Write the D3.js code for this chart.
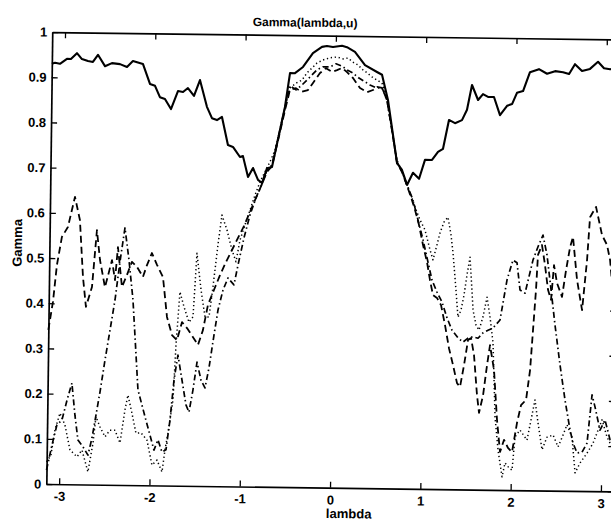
<!DOCTYPE html>
<html>
<head>
<meta charset="utf-8">
<script src="https://cdn.jsdelivr.net/npm/d3@7"></script>
<style>
  html, body { margin: 0; padding: 0; background: #fff; }
  svg { display: block; }
  text { font-family: "Liberation Sans", Arial, Helvetica, sans-serif; font-weight: bold; fill: #000; }
</style>
</head>
<body>
<div id="chart"></div>
<script>
// values (lambda on x, Gamma on y)
var solidLambda = [-3.142,-3.107,-3.052,-2.975,-2.931,-2.865,-2.809,-2.742,-2.687,-2.632,-2.553,-2.476,-2.387,-2.309,-2.244,-2.133,-2.052,-1.996,-1.940,-1.884,-1.816,-1.741,-1.685,-1.631,-1.563,-1.499,-1.418,-1.361,-1.305,-1.250,-1.180,-1.124,-1.045,-1.012,-0.953,-0.899,-0.842,-0.797,-0.744,-0.689,-0.606,-0.554,-0.503,-0.448,-0.360,-0.252,-0.153,-0.098,-0.031,0.069,0.124,0.213,0.326,0.460,0.516,0.586,0.695,0.751,0.809,0.873,0.941,1.004,1.082,1.147,1.202,1.264,1.331,1.408,1.462,1.514,1.583,1.637,1.693,1.759,1.828,1.905,1.960,2.013,2.080,2.154,2.253,2.343,2.432,2.520,2.587,2.651,2.730,2.818,2.906,2.973,3.040,3.142];
var solidGamma = [0.930,0.932,0.930,0.941,0.941,0.954,0.941,0.937,0.935,0.951,0.926,0.933,0.931,0.925,0.938,0.932,0.888,0.884,0.859,0.855,0.833,0.873,0.871,0.880,0.863,0.898,0.839,0.814,0.810,0.817,0.755,0.751,0.729,0.731,0.685,0.705,0.679,0.672,0.705,0.708,0.790,0.841,0.916,0.916,0.930,0.961,0.975,0.977,0.975,0.978,0.975,0.965,0.936,0.921,0.915,0.859,0.720,0.705,0.672,0.699,0.686,0.728,0.728,0.746,0.753,0.817,0.810,0.817,0.840,0.895,0.862,0.875,0.869,0.869,0.829,0.850,0.854,0.879,0.883,0.925,0.932,0.922,0.928,0.926,0.922,0.944,0.929,0.934,0.950,0.936,0.934,0.932];

var dottedLambda = [-3.142,-3.095,-3.054,-3.001,-2.944,-2.885,-2.806,-2.752,-2.683,-2.631,-2.602,-2.556,-2.499,-2.445,-2.390,-2.332,-2.282,-2.251,-2.204,-2.157,-2.101,-2.034,-1.975,-1.920,-1.863,-1.833,-1.802,-1.752,-1.726,-1.690,-1.643,-1.586,-1.542,-1.507,-1.457,-1.409,-1.365,-1.325,-1.276,-1.236,-1.178,-1.120,-1.074,-1.033,-0.980,-0.926,-0.873,-0.820,-0.766,-0.712,-0.658,-0.606,-0.554,-0.501,-0.435,-0.369,-0.315,-0.260,-0.206,-0.140,-0.063,0.015,0.082,0.137,0.193,0.249,0.305,0.349,0.405,0.461,0.517,0.563,0.634,0.694,0.751,0.809,0.854,0.900,0.958,1.014,1.073,1.107,1.149,1.181,1.224,1.267,1.303,1.328,1.366,1.392,1.425,1.456,1.486,1.517,1.558,1.593,1.627,1.669,1.711,1.747,1.784,1.817,1.855,1.903,1.934,1.979,2.013,2.041,2.095,2.174,2.216,2.257,2.294,2.342,2.395,2.462,2.519,2.572,2.615,2.672,2.711,2.765,2.841,2.906,2.959,3.002,3.060,3.117,3.142];
var dottedGamma = [0.049,0.064,0.120,0.157,0.131,0.076,0.061,0.076,0.028,0.092,0.150,0.128,0.106,0.121,0.121,0.093,0.166,0.199,0.159,0.115,0.116,0.100,0.045,0.056,0.030,0.079,0.116,0.189,0.311,0.429,0.396,0.362,0.374,0.515,0.434,0.374,0.374,0.441,0.534,0.600,0.567,0.523,0.497,0.545,0.579,0.612,0.645,0.674,0.697,0.719,0.745,0.790,0.839,0.883,0.894,0.901,0.917,0.928,0.939,0.946,0.951,0.953,0.949,0.951,0.942,0.936,0.925,0.919,0.910,0.903,0.897,0.870,0.793,0.727,0.701,0.672,0.650,0.623,0.595,0.573,0.529,0.507,0.540,0.567,0.591,0.602,0.563,0.523,0.441,0.381,0.397,0.430,0.475,0.514,0.397,0.364,0.353,0.382,0.426,0.382,0.325,0.161,0.088,0.029,0.060,0.049,0.044,0.118,0.133,0.111,0.156,0.200,0.149,0.090,0.118,0.123,0.097,0.123,0.146,0.119,0.040,0.062,0.084,0.106,0.135,0.158,0.120,0.098,0.090];

var dashdotLambda = [-3.142,-3.085,-3.033,-2.978,-2.925,-2.873,-2.835,-2.798,-2.741,-2.685,-2.643,-2.602,-2.561,-2.510,-2.459,-2.408,-2.359,-2.308,-2.259,-2.209,-2.141,-2.094,-2.048,-2.001,-1.955,-1.912,-1.866,-1.822,-1.782,-1.743,-1.703,-1.655,-1.607,-1.573,-1.532,-1.491,-1.444,-1.399,-1.358,-1.307,-1.266,-1.214,-1.160,-1.093,-1.051,-0.989,-0.926,-0.862,-0.797,-0.744,-0.689,-0.606,-0.554,-0.501,-0.434,-0.369,-0.281,-0.205,-0.139,-0.061,0.005,0.071,0.127,0.194,0.261,0.328,0.384,0.451,0.518,0.575,0.634,0.694,0.751,0.809,0.877,0.935,0.994,1.052,1.099,1.156,1.213,1.271,1.328,1.396,1.452,1.506,1.561,1.617,1.672,1.727,1.782,1.858,1.930,1.993,2.038,2.075,2.131,2.215,2.268,2.322,2.369,2.419,2.468,2.529,2.589,2.649,2.684,2.730,2.785,2.839,2.888,2.923,2.981,3.035,3.094,3.142];
var dashdotGamma = [0.031,0.086,0.131,0.142,0.186,0.224,0.153,0.098,0.083,0.065,0.103,0.154,0.205,0.276,0.342,0.409,0.493,0.569,0.498,0.410,0.211,0.177,0.144,0.111,0.078,0.101,0.074,0.079,0.145,0.234,0.289,0.234,0.179,0.163,0.212,0.274,0.234,0.217,0.261,0.334,0.390,0.434,0.461,0.446,0.490,0.550,0.601,0.639,0.670,0.701,0.712,0.790,0.839,0.888,0.879,0.890,0.908,0.924,0.931,0.931,0.938,0.933,0.925,0.918,0.907,0.899,0.892,0.886,0.886,0.859,0.793,0.722,0.701,0.672,0.639,0.595,0.551,0.502,0.462,0.436,0.414,0.379,0.352,0.335,0.326,0.335,0.338,0.335,0.347,0.353,0.358,0.376,0.465,0.509,0.503,0.443,0.436,0.510,0.539,0.565,0.521,0.444,0.366,0.278,0.201,0.135,0.106,0.084,0.086,0.106,0.213,0.186,0.135,0.158,0.114,0.105];

var dashedLambda = [-3.142,-3.095,-3.056,-3.005,-2.940,-2.866,-2.808,-2.766,-2.729,-2.665,-2.618,-2.580,-2.521,-2.447,-2.411,-2.383,-2.333,-2.279,-2.226,-2.170,-2.102,-2.059,-2.006,-1.948,-1.880,-1.830,-1.772,-1.716,-1.663,-1.607,-1.539,-1.483,-1.430,-1.378,-1.314,-1.249,-1.185,-1.120,-1.055,-0.991,-0.926,-0.862,-0.797,-0.744,-0.689,-0.606,-0.553,-0.501,-0.435,-0.379,-0.302,-0.247,-0.171,-0.105,-0.038,0.017,0.072,0.128,0.195,0.274,0.352,0.418,0.462,0.518,0.575,0.634,0.695,0.751,0.809,0.855,0.901,0.947,0.994,1.041,1.077,1.112,1.157,1.203,1.250,1.297,1.344,1.391,1.425,1.466,1.507,1.540,1.575,1.614,1.639,1.681,1.721,1.751,1.799,1.839,1.877,1.920,1.965,2.010,2.061,2.103,2.158,2.198,2.225,2.252,2.269,2.312,2.348,2.385,2.420,2.448,2.484,2.541,2.582,2.623,2.654,2.705,2.765,2.813,2.840,2.905,2.975,3.032,3.068,3.118,3.142];
var dashedGamma = [0.341,0.403,0.485,0.547,0.569,0.636,0.585,0.459,0.393,0.437,0.563,0.497,0.437,0.497,0.453,0.526,0.438,0.465,0.494,0.483,0.461,0.487,0.514,0.488,0.461,0.373,0.333,0.322,0.362,0.349,0.329,0.312,0.345,0.401,0.434,0.467,0.496,0.523,0.550,0.576,0.608,0.639,0.670,0.697,0.710,0.785,0.834,0.879,0.883,0.875,0.879,0.895,0.917,0.928,0.920,0.924,0.929,0.920,0.907,0.885,0.876,0.881,0.888,0.886,0.859,0.793,0.720,0.701,0.670,0.645,0.617,0.584,0.540,0.502,0.462,0.429,0.423,0.407,0.363,0.312,0.275,0.235,0.227,0.275,0.331,0.335,0.298,0.209,0.170,0.209,0.276,0.320,0.265,0.155,0.084,0.111,0.093,0.084,0.149,0.188,0.200,0.266,0.355,0.443,0.521,0.543,0.499,0.444,0.422,0.499,0.459,0.429,0.488,0.539,0.562,0.467,0.400,0.511,0.606,0.629,0.567,0.545,0.512,0.412,0.390];

var xTicks = [-3, -2, -1, 0, 1, 2, 3];
var yTicks = [0, 0.1, 0.2, 0.3, 0.4, 0.5, 0.6, 0.7, 0.8, 0.9, 1];

!function() {
    var width = 611, height = 523;
    var plotLeft = 49.3, plotRight = 616.7, plotTop = 35.7, plotBottom = 487.7;

    var svg = d3.select("#chart").append("svg")
        .attr("width", width)
        .attr("height", height);

    svg.append("rect").attr("width", width).attr("height", height).attr("fill", "#fff");

    // the scanned page sits slightly tilted, so the whole figure is turned a little
    var g = svg.append("g").attr("transform", "rotate(0.75,331,260)");

    var x = d3.scaleLinear().domain([-Math.PI, Math.PI]).range([plotLeft, plotRight]);
    var y = d3.scaleLinear().domain([0, 1]).range([plotBottom, plotTop]);

    // axes, matlab style: ticks pointing inwards
    g.append("g")
        .attr("transform", "translate(0," + plotBottom + ")")
        .call(d3.axisBottom(x).tickValues(xTicks).tickFormat(function(d) { return String(d); })
            .tickSizeInner(-6).tickSizeOuter(0).tickPadding(7.5));

    g.append("g")
        .attr("transform", "translate(0," + plotTop + ")")
        .call(d3.axisTop(x).tickValues(xTicks).tickFormat("").tickSizeInner(-6).tickSizeOuter(0));

    g.append("g")
        .attr("transform", "translate(" + plotLeft + ",0)")
        .call(d3.axisLeft(y).tickValues(yTicks).tickFormat(function(d) { return String(d); })
            .tickSizeInner(-6).tickSizeOuter(0).tickPadding(5));

    g.append("g")
        .attr("transform", "translate(" + plotRight + ",0)")
        .call(d3.axisRight(y).tickValues(yTicks).tickFormat("").tickSizeInner(-6).tickSizeOuter(0));

    g.selectAll(".domain").attr("stroke", "#000").attr("stroke-width", 1.7);
    g.selectAll(".tick line").attr("stroke", "#000").attr("stroke-width", 1.3);
    g.selectAll(".tick text")
        .style("font-family", '"Liberation Sans", Arial, sans-serif')
        .style("font-weight", "bold")
        .style("font-size", "13px")
        .attr("fill", "#000");

    var line = d3.line()
        .x(function(d) { return x(d[0]); })
        .y(function(d) { return y(d[1]); });

    var series = [
        {lam: dottedLambda, gam: dottedGamma, dash: "1.3,2.7", w: 1.5},
        {lam: dashdotLambda, gam: dashdotGamma, dash: "6,3,1.5,3", w: 1.7},
        {lam: dashedLambda, gam: dashedGamma, dash: "7,4", w: 1.8},
        {lam: solidLambda, gam: solidGamma, dash: null, w: 2.1}
    ];

    series.forEach(function(s) {
        g.append("path")
            .datum(d3.zip(s.lam, s.gam))
            .attr("fill", "none")
            .attr("stroke", "#000")
            .attr("stroke-width", s.w)
            .attr("stroke-linejoin", "round")
            .attr("stroke-dasharray", s.dash)
            .attr("d", line);
    });

    // labels
    g.append("text")
        .attr("x", 302).attr("y", 27)
        .attr("text-anchor", "middle")
        .style("font-size", "12px")
        .text("Gamma(lambda,u)");

    g.append("text")
        .attr("x", 352).attr("y", 518)
        .attr("text-anchor", "middle")
        .style("font-size", "13px")
        .text("lambda");

    g.append("text")
        .attr("transform", "translate(21.7,247) rotate(-90)")
        .attr("text-anchor", "middle")
        .style("font-size", "13px")
        .text("Gamma");
}();
</script>
</body>
</html>
